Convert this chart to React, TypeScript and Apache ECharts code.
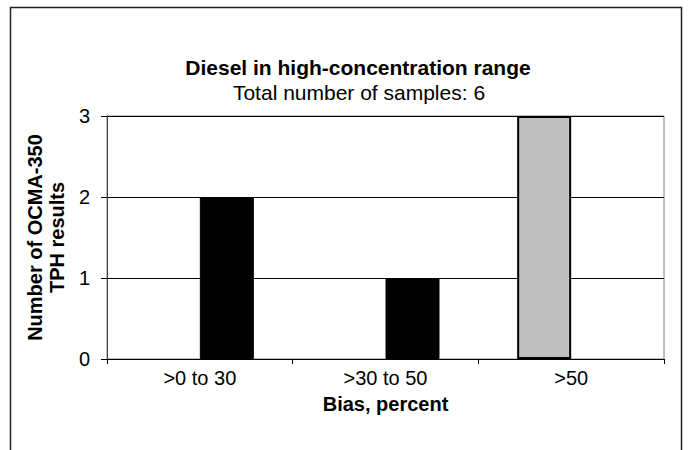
import React, { useEffect, useRef } from "react";
import * as echarts from "echarts";

const categories = [">0 to 30", ">30 to 50", ">50"];
const grayValues = [0, 0, 3];
const blackValues = [2, 1, 0];
const yTicks = { min: 0, max: 3, interval: 1 };
const titleText = "Diesel in high-concentration range";
const subtitleText = "Total number of samples: 6";
const xTitle = "Bias, percent";
const yTitle = "Number of OCMA-350\nTPH results";

const FONT = "'Liberation Sans', Arial, sans-serif";

function toItems(values: number[], borderWidth: number) {
  return values.map((v) => ({
    value: v,
    itemStyle: v === 0 ? { borderWidth: 0, opacity: 0 } : { borderWidth },
  }));
}

export default function App() {
  const ref = useRef<HTMLDivElement>(null);
  useEffect(() => {
    document.body.style.margin = "0";
    const chart = echarts.init(ref.current!, null, { renderer: "svg" });
    chart.setOption({
      animation: false,
      backgroundColor: "#ffffff",
      textStyle: { fontFamily: FONT },
      grid: {
        left: 107,
        right: 24,
        top: 116,
        bottom: 91,
        show: true,
        borderColor: "#808080",
        borderWidth: 1,
        backgroundColor: "transparent",
      },
      graphic: [
        {
          type: "polyline",
          shape: { points: [[10.5, 460], [10.5, 7.5], [681.5, 7.5], [681.5, 460]] },
          style: { stroke: "#222", lineWidth: 1.5, fill: null },
          silent: true,
        },
        {
          type: "text",
          x: 358,
          y: 67,
          style: {
            text: titleText,
            font: `bold 21px ${FONT}`,
            fill: "#000",
            textAlign: "center",
            textVerticalAlign: "middle",
          },
        },
        {
          type: "text",
          x: 359,
          y: 92,
          style: {
            text: subtitleText,
            font: `21px ${FONT}`,
            fill: "#000",
            textAlign: "center",
            textVerticalAlign: "middle",
          },
        },
      ],
      xAxis: {
        type: "category",
        data: categories,
        name: xTitle,
        nameLocation: "middle",
        nameGap: 35,
        nameTextStyle: { fontSize: 20, fontWeight: "bold", color: "#000", fontFamily: FONT },
        axisLine: { lineStyle: { color: "#000", width: 1 } },
        axisTick: { show: true, alignWithLabel: false, length: 5, lineStyle: { color: "#000" } },
        axisLabel: { fontSize: 20, color: "#000", margin: 9, fontFamily: FONT },
        splitLine: { show: false },
      },
      yAxis: {
        type: "value",
        min: yTicks.min,
        max: yTicks.max,
        interval: yTicks.interval,
        name: yTitle,
        nameLocation: "middle",
        nameRotate: 90,
        nameGap: 38,
        nameTextStyle: {
          fontSize: 20,
          fontWeight: "bold",
          color: "#000",
          lineHeight: 22,
          fontFamily: FONT,
          align: "center",
        },
        axisLine: { show: true, lineStyle: { color: "#404040", width: 1 } },
        axisTick: { show: true, length: 6, lineStyle: { color: "#000" } },
        axisLabel: { fontSize: 20, color: "#000", margin: 17, fontFamily: FONT },
        splitLine: { show: true, lineStyle: { color: "#000", width: 1 } },
      },
      series: [
        {
          type: "bar",
          data: toItems(grayValues, 2),
          barWidth: 54,
          barGap: "0%",
          itemStyle: { color: "#c0c0c0", borderColor: "#000", borderWidth: 2 },
        },
        {
          type: "bar",
          data: toItems(blackValues, 1),
          barWidth: 54,
          barGap: "0%",
          itemStyle: { color: "#000", borderColor: "#000", borderWidth: 1 },
        },
      ],
    });
    return () => chart.dispose();
  }, []);
  return <div ref={ref} style={{ width: 688, height: 450 }} />;
}
